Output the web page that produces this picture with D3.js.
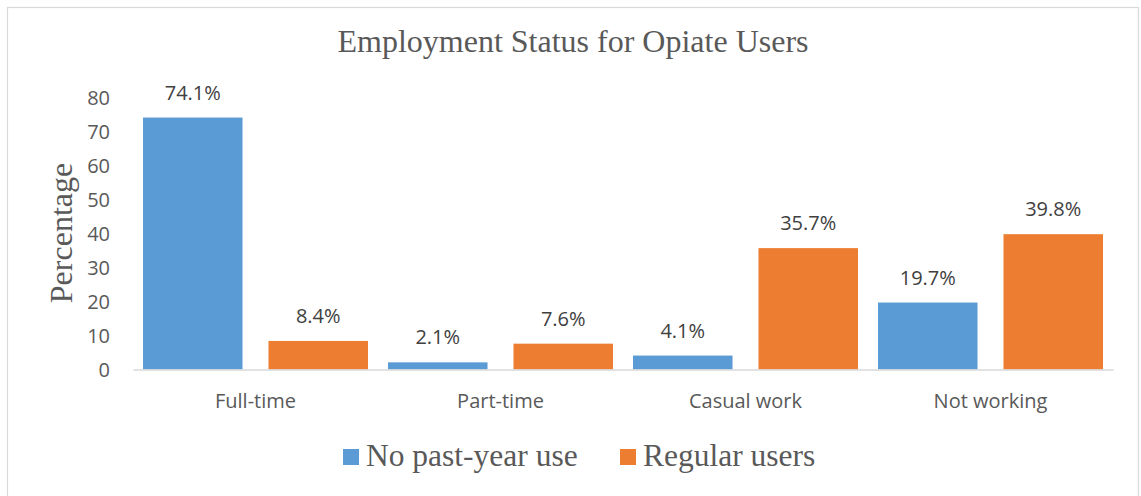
<!DOCTYPE html>
<html>
<head>
<meta charset="utf-8">
<script src="https://cdn.jsdelivr.net/npm/d3@7"></script>
<style>
  html, body { margin: 0; padding: 0; background: #ffffff; }
  svg { display: block; }
</style>
</head>
<body>
<svg id="chart" width="1141" height="496"></svg>
<script>
// Employment status by opiate-use group (percent)
const categories = ["Full-time", "Part-time", "Casual work", "Not working"];
const seriesNames = ["No past-year use", "Regular users"];
const noPastYearUse = [74.1, 2.1, 4.1, 19.7];
const regularUsers = [8.4, 7.6, 35.7, 39.8];
const yTicks = [0, 10, 20, 30, 40, 50, 60, 70, 80];
const seriesColors = ["#5B9BD5", "#ED7D31"];

const seriesValues = [noPastYearUse, regularUsers];
const rows = categories.map((c, i) => ({
  category: c,
  values: seriesNames.map((s, j) => ({ series: s, value: seriesValues[j][i], color: seriesColors[j] }))
}));

const svg = d3.select("#chart");
const sansFont = "'Open Sans', 'DejaVu Sans', sans-serif";
const serifFont = "'Liberation Serif', 'Times New Roman', serif";

// Outer frame
svg.append("rect")
  .attr("x", 7.5).attr("y", 7.5)
  .attr("width", 1131).attr("height", 500)
  .attr("fill", "none")
  .attr("stroke", "#d9d9d9")
  .attr("stroke-width", 1.2);

// Scales
const x0 = d3.scaleBand().domain(categories).range([133, 1113]).paddingInner(0).paddingOuter(0);
const x1 = d3.scaleBand().domain(seriesNames).range([10, 235]).paddingInner(0.207).paddingOuter(0);
const y = d3.scaleLinear().domain([0, 80]).range([369.5, 97.5]);

// Title
svg.append("text")
  .attr("x", 573).attr("y", 52)
  .attr("text-anchor", "middle")
  .attr("font-family", serifFont)
  .attr("font-size", 32)
  .attr("fill", "#595959")
  .text("Employment Status for Opiate Users");

// Y axis title
svg.append("text")
  .attr("transform", "translate(72,233) rotate(-90)")
  .attr("text-anchor", "middle")
  .attr("font-family", serifFont)
  .attr("font-size", 32)
  .attr("fill", "#595959")
  .text("Percentage");

// Y axis (labels only)
const yAxis = svg.append("g")
  .attr("transform", "translate(110,0)")
  .call(d3.axisLeft(y).tickValues(yTicks).tickSize(0).tickPadding(0));
yAxis.select(".domain").remove();
yAxis.selectAll("text")
  .attr("font-family", sansFont)
  .attr("font-size", 20)
  .attr("fill", "#595959")
  .attr("dy", "0.36em");

// Bars
const groups = svg.append("g").selectAll("g")
  .data(rows)
  .join("g")
  .attr("transform", d => `translate(${x0(d.category)},0)`);

groups.selectAll("rect")
  .data(d => d.values)
  .join("rect")
  .attr("x", d => x1(d.series))
  .attr("width", x1.bandwidth())
  .attr("y", d => y(d.value))
  .attr("height", d => y(0) - y(d.value))
  .attr("fill", d => d.color);

// Data labels
groups.selectAll("text.value")
  .data(d => d.values)
  .join("text")
  .attr("class", "value")
  .attr("x", d => x1(d.series) + x1.bandwidth() / 2)
  .attr("y", d => y(d.value) - 18)
  .attr("text-anchor", "middle")
  .attr("font-family", sansFont)
  .attr("font-size", 20)
  .attr("fill", "#404040")
  .text(d => d.value.toFixed(1) + "%");

// Category axis
const xAxis = svg.append("g")
  .attr("transform", `translate(0,${y(0)})`)
  .call(d3.axisBottom(x0).tickSize(0).tickPadding(0));
xAxis.select(".domain")
  .attr("stroke", "#d9d9d9")
  .attr("stroke-width", 1.6);
xAxis.selectAll("text")
  .attr("font-family", sansFont)
  .attr("font-size", 20)
  .attr("fill", "#595959")
  .attr("dy", null)
  .attr("y", 38);

// Legend
const legendX = [343, 620];
const legend = svg.append("g").selectAll("g")
  .data(seriesNames)
  .join("g")
  .attr("transform", (d, i) => `translate(${legendX[i]},449)`);
legend.append("rect")
  .attr("width", 16).attr("height", 16)
  .attr("fill", (d, i) => seriesColors[i]);
legend.append("text")
  .attr("x", 23).attr("y", 17)
  .attr("font-family", serifFont)
  .attr("font-size", 31.5)
  .attr("fill", "#595959")
  .text(d => d);
</script>
</body>
</html>
